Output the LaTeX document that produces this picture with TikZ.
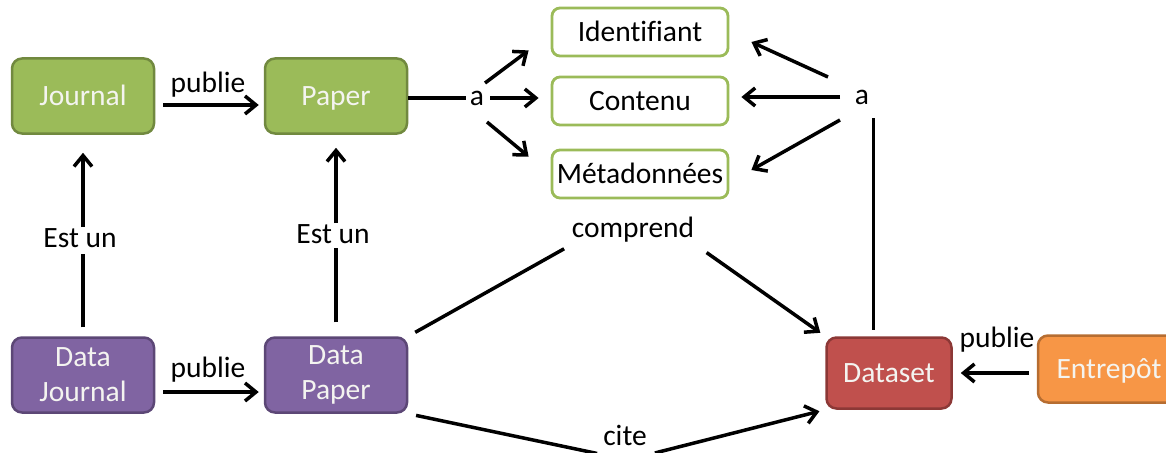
\documentclass[tikz,border=0pt]{standalone}
\usepackage{fontspec}
\setmainfont{Carlito}[Ligatures=NoCommon]
\usetikzlibrary{arrows.meta}
\definecolor{gfill}{HTML}{9BBB59}
\definecolor{gline}{HTML}{71893F}
\definecolor{pfill}{HTML}{8064A2}
\definecolor{pline}{HTML}{5C4776}
\definecolor{rfill}{HTML}{C0504D}
\definecolor{rline}{HTML}{8C3836}
\definecolor{ofill}{HTML}{F79646}
\definecolor{oline}{HTML}{B66D31}
\definecolor{boxtext}{HTML}{F4F4F0}
\tikzset{
  box/.style={rounded corners=10pt, line width=2.5pt, text=boxtext, align=center,
    minimum width=142pt, minimum height=75pt, inner sep=0pt},
  oneline/.style={text height=19pt, text depth=0pt},
  greenbox/.style={box, oneline, fill=gfill, draw=gline},
  purplebox/.style={box, fill=pfill, draw=pline},
  attrbox/.style={oneline, rounded corners=8pt, draw=gfill, line width=2.8pt, fill=white,
    text=black, minimum width=176pt, minimum height=48pt, inner sep=0pt},
  lbl/.style={text=black, inner sep=4pt},
  arr/.style={line width=3.5pt, -{Straight Barb[length=11pt,width=18pt,line width=3.5pt]}},
  link/.style={line width=3.5pt}
}
\begin{document}
\begin{tikzpicture}[x=1pt,y=-1pt,font=\fontsize{29.5}{35}\selectfont]
\useasboundingbox (0,0) rectangle (1166,452);
\clip (0,0) rectangle (1166,452);

% publications
\node[greenbox] (journal) at (83,96) {Journal};
\node[greenbox] (paper) at (336,96) {Paper};
\node[purplebox] (djournal) at (83,375) {Data\\Journal};
\node[purplebox] (dpaper) at (336,375) {Data\\Paper};

% attributes
\node[attrbox] (ident) at (640,32) {Identifiant};
\node[attrbox] (contenu) at (640,101) {Contenu};
\node[attrbox] (meta) at (640,174) {Métadonnées};

% data
\node[box, oneline, fill=rfill, draw=rline, minimum width=125pt, minimum height=71pt] (dataset) at (889,373) {Dataset};
\node[box, oneline, fill=ofill, draw=oline, minimum height=67pt] (entrepot) at (1109,369) {Entrepôt};

% labels
\node[lbl] (pub1) at (208,85) {publie};
\node[lbl] (pub2) at (208,370) {publie};
\node[lbl] (pub3) at (997,340) {publie};
\node[lbl] (a1) at (477,98) {a};
\node[lbl] (a2) at (862,97) {a};
\node[lbl, inner sep=1pt] (estun1) at (80,238) {Est un};
\node[lbl, inner sep=1pt] (estun2) at (333,234) {Est un};
\node[lbl] (comprend) at (633,230) {comprend};
\node[lbl, inner sep=2pt] (cite) at (625,435) {cite};

% publie
\draw[arr, shorten <=8pt, shorten >=5pt] ([yshift=-9pt]journal.east) -- ([yshift=-9pt]paper.west);
\draw[arr, shorten <=8pt, shorten >=5pt] ([yshift=-17pt]djournal.east) -- ([yshift=-17pt]dpaper.west);
\draw[arr, shorten <=8pt, shorten >=8pt] (entrepot.west |- dataset.east) -- (dataset.east);

% est un
\draw[link, shorten <=9pt, shorten >=5pt] (djournal.north) -- (estun1.south -| djournal.north);
\draw[arr, shorten >=18pt] (estun1.north -| journal.south) -- (journal.south);
\draw[link, shorten <=14pt, shorten >=3pt] (dpaper.north) -- (estun2.south -| dpaper.north);
\draw[arr, shorten >=13pt] (estun2.north -| paper.south) -- (paper.south);

% paper a ...
\draw[link] (a1.west -| paper.east) -- (a1.west);
\draw[arr] ([shift={(8pt,15pt)}]a1.center) -- ([shift={(-22pt,7pt)}]ident.south west);
\draw[arr, shorten <=2pt, shorten >=12pt] (a1.east) -- (a1.east -| contenu.west);
\draw[arr] ([shift={(10pt,-24pt)}]a1.center) -- ([shift={(-22pt,-8pt)}]meta.north west);

% dataset a ...
\draw[arr] ([shift={(-34pt,20pt)}]a2.center) -- ([shift={(22pt,-10pt)}]ident.east);
\draw[arr, shorten <=22pt, shorten >=12pt] (a2.center) -- (a2.center -| contenu.east);
\draw[arr] ([shift={(-22pt,-23pt)}]a2.center) -- ([shift={(22pt,4pt)}]meta.east);
\draw[link, shorten <=10pt, shorten >=6pt] (a2.south east) -- (a2.south east |- dataset.north);

% comprend, cite
\draw[link, shorten <=8pt, shorten >=4pt] (dpaper.north east) -- (comprend.south west);
\draw[arr, shorten <=10pt, shorten >=6pt] (comprend.south east) -- (dataset.north west);
\draw[link, shorten <=8pt] (dpaper.south east) -- ([shift={(-4pt,-6pt)}]cite.south west);
\draw[arr, shorten <=2pt, shorten >=6pt] ([shift={(4pt,-6pt)}]cite.south east) -- (dataset.south west);
\end{tikzpicture}
\end{document}
